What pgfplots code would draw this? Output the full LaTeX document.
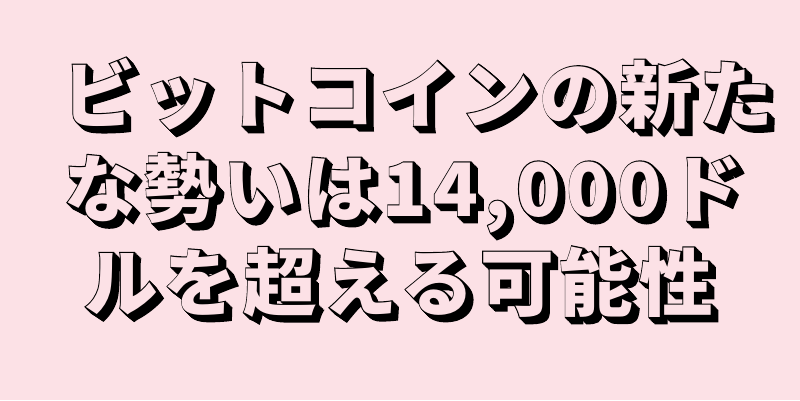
\documentclass[border=0pt]{standalone}
\usepackage{pgfplots}
\pgfplotsset{compat=1.18}
\usepackage{fontspec}
\newfontfamily\cjk{Noto Sans CJK JP}[LetterSpace=8]
\newfontfamily\cjkout{Noto Sans CJK JP}[LetterSpace=8, BoldFeatures={FakeBold=3}]
\definecolor{bgpink}{HTML}{FCE1E6}
\newcommand\fsize{\fontsize{74}{80}\selectfont}
% one line of extruded text: shadow copies, outline, fill
\newcommand\fancy[3]{%
  \pgfplotsinvokeforeach{1,...,8}{%
    \node[anchor=base west, inner sep=0pt, text=black, font=\cjkout\bfseries\fsize]
      at ([shift={(##1*0.8pt,-##1*0.8pt)}]axis cs:#1,#2) {#3};}
  \node[anchor=base west, inner sep=0pt, text=black, font=\cjkout\bfseries\fsize]
    at (axis cs:#1,#2) {#3};
  \node[anchor=base west, inner sep=0pt, text=bgpink, font=\cjk\bfseries\fsize]
    at (axis cs:#1,#2) {#3};
}
\begin{document}
\begin{tikzpicture}
  \begin{axis}[
    width=800bp, height=400bp, scale only axis,
    xmin=0, xmax=800, ymin=0, ymax=400,
    hide axis, clip=false,
    ]
    \fill[bgpink] (axis cs:0,0) rectangle (axis cs:800,400);
    \fancy{62}{278}{ビットコインの新た}
    \fancy{64}{184}{な勢いは14,000ド}
    \fancy{84}{90}{ルを超える可能性}
  \end{axis}
\end{tikzpicture}
\end{document}
